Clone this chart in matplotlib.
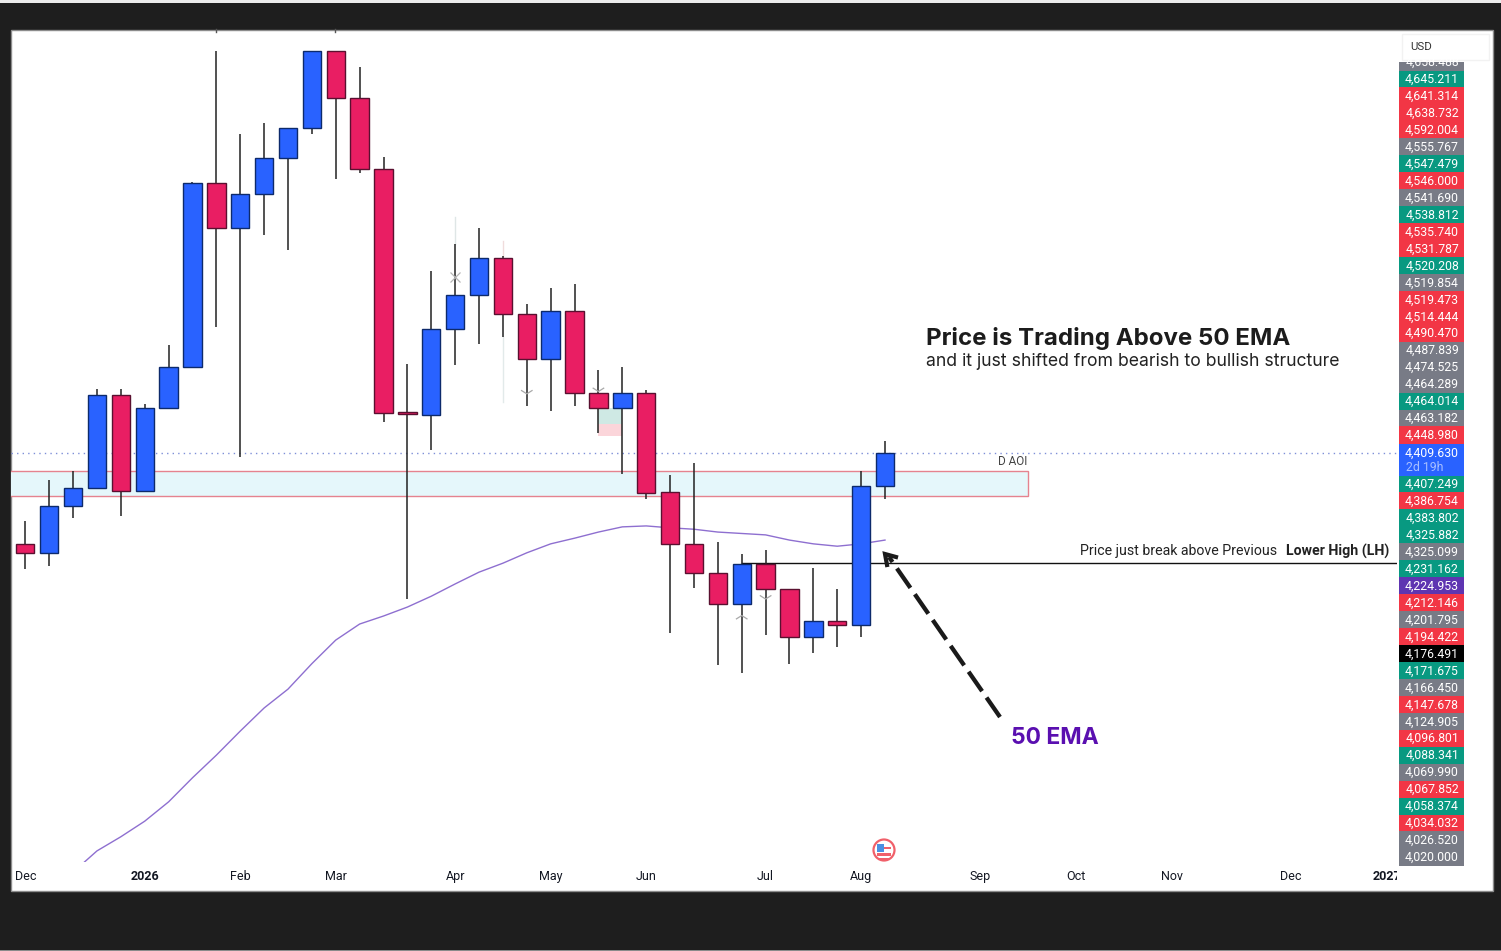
import numpy as np
import matplotlib
matplotlib.use("Agg")
import matplotlib.pyplot as plt
from matplotlib.patches import Rectangle, Circle

plt.rcParams["font.family"] = ["Roboto", "DejaVu Sans"]

W, H = 1501, 951
BLUE = "#2962ff"
RED = "#e91e63"
GREEN = "#089981"
LRED = "#f23645"
GRAY = "#787b86"
PURPLE = "#5e35b1"

# weekly candles
opens = [4216, 4198, 4298, 4336, 4532, 4330, 4505, 4592, 4982, 4887, 4958, 5034, 5099,
         5262, 5162, 5012, 4497, 4490, 4673, 4744, 4824, 4704, 4609, 4711, 4537, 4505,
         4537, 4327, 4217, 4155, 4089, 4175, 4121, 4019, 4053, 4046, 4340]
highs = [4265, 4352, 4372, 4545, 4545, 4513, 4639, 4984, 5262, 5086, 5110, 5099, 5262,
         5262, 5229, 5037, 4598, 4795, 4853, 4887, 4827, 4726, 4759, 4768, 4586, 4592,
         4543, 4363, 4388, 4221, 4196, 4205, 4121, 4166, 4121, 4372, 4434]
lows = [4164, 4170, 4272, 4336, 4275, 4330, 4505, 4592, 4677, 4401, 4872, 4840, 5086,
        4991, 5003, 4475, 4100, 4416, 4597, 4641, 4656, 4509, 4499, 4509, 4452, 4365,
        4312, 4027, 4123, 3961, 3944, 4024, 3963, 3986, 3999, 4019, 4313]
closes = [4198, 4298, 4336, 4532, 4330, 4505, 4592, 4982, 4887, 4958, 5034, 5099, 5262,
          5162, 5012, 4494, 4492, 4673, 4744, 4824, 4704, 4609, 4711, 4537, 4505, 4537,
          4325, 4217, 4155, 4089, 4175, 4121, 4019, 4053, 4046, 4340, 4409.63]

ema_start = 2
ema = [3521, 3566, 3596, 3629, 3670, 3721, 3769, 3820, 3869, 3909, 3963, 4013, 4047, 4064,
       4083, 4106, 4132, 4157, 4176, 4198, 4217, 4229, 4242, 4253, 4255, 4251, 4248, 4242,
       4239, 4236, 4225, 4217, 4212, 4217, 4225]

tick_idx = [0, 5, 9, 13, 18, 22, 26, 31, 35, 40, 44, 48, 53, 57]
tick_txt = ["Dec", "2026", "Feb", "Mar", "Apr", "May", "Jun", "Jul", "Aug", "Sep", "Oct", "Nov", "Dec", "2027"]

aoi_low, aoi_high = 4319, 4372
aoi_end = 42
lh_level = 4177
lh_start = 30
last_price = 4409.63

upper_labels = ["4,645.211", "4,641.314", "4,638.732", "4,592.004", "4,555.767", "4,547.479",
                "4,546.000", "4,541.690", "4,538.812", "4,535.740", "4,531.787", "4,520.208",
                "4,519.854", "4,519.473", "4,514.444", "4,490.470", "4,487.839", "4,474.525",
                "4,464.289", "4,464.014", "4,463.182", "4,448.980"]
upper_colors = [GREEN, LRED, LRED, LRED, GRAY, GREEN, LRED, GRAY, GREEN, LRED, LRED, GREEN,
                GRAY, LRED, LRED, LRED, GRAY, GRAY, GRAY, GREEN, GRAY, LRED]
lower_labels = ["4,407.249", "4,386.754", "4,383.802", "4,325.882", "4,325.099", "4,231.162",
                "4,224.953", "4,212.146", "4,201.795", "4,194.422", "4,176.491", "4,171.675",
                "4,166.450", "4,147.678", "4,124.905", "4,096.801", "4,088.341", "4,069.990",
                "4,067.852", "4,058.374", "4,034.032", "4,026.520", "4,020.000"]
lower_colors = [GREEN, LRED, GREEN, GREEN, GRAY, GREEN, PURPLE, LRED, GRAY, LRED, "#000000",
                GREEN, GRAY, LRED, GRAY, LRED, GREEN, GRAY, LRED, GREEN, LRED, GRAY, GRAY]

fig = plt.figure(figsize=(W / 100, H / 100), dpi=100, facecolor="#1e1e1e")


def px_axes(zorder):
    a = fig.add_axes([0, 0, 1, 1], zorder=zorder)
    a.set_xlim(0, W)
    a.set_ylim(H, 0)
    a.axis("off")
    a.patch.set_alpha(0)
    return a


bg = px_axes(0)
bg.add_patch(Rectangle((0, 0), W, 3, fc="#ececec", ec="none"))
bg.add_patch(Rectangle((0, 949.5), W, 1.5, fc="#8a8a8a", ec="none"))
bg.add_patch(Rectangle((10.5, 29.5), 1482, 861, fc="white", ec="#8c8c8c", lw=1))

# price chart on its own axes, limits fitted to the screenshot
ax = fig.add_axes([11 / W, 1 - 862 / H, 1386 / W, 832 / H], zorder=1)
ax.patch.set_alpha(0)
for s in ax.spines.values():
    s.set_visible(False)
ax.set_xlim(-0.599, 57.44)
ax.set_ylim(3542.5, 5306.4)
ax.set_yticks([])
ax.set_xticks(tick_idx)
ax.set_xticklabels(tick_txt, fontsize=9, color="#131722")
ax.tick_params(axis="x", length=0, pad=6)
for lab, t in zip(ax.get_xticklabels(), tick_txt):
    if t.isdigit():
        lab.set_fontweight("bold")

# last price dotted line and AOI zone
ax.axhline(last_price, color="#7e8fd8", lw=1, ls=(0, (1, 3)), zorder=1)
ax.add_patch(Rectangle((-2, aoi_low), aoi_end + 2, aoi_high - aoi_low, fc="#e5f7fb",
                       ec="#e5838f", lw=1, zorder=1.1))
ax.text(aoi_end - 0.05, aoi_high + 5, "D AOI", ha="right", va="bottom", fontsize=8.5, color="#444444")

# position tool remnant under the small candles
ax.add_patch(Rectangle((24, 4471), 1, 34, fc="#cfe9e4", ec="none", zorder=1.2))
ax.add_patch(Rectangle((24, 4446), 1, 25, fc="#fbd5da", ec="none", zorder=1.2))

ax.plot(np.arange(ema_start, ema_start + len(ema)), ema, color="#8e6fd0", lw=1, zorder=1.5)
ax.plot([lh_start, 60], [lh_level, lh_level], color="#111111", lw=1, zorder=1.5)

# faint leftover wicks
ax.plot([18, 18], [4853, 4910], color="#dfe6e6", lw=1, zorder=1.6)
ax.plot([20, 20], [4827, 4860], color="#f0dcdc", lw=1, zorder=1.6)
ax.plot([20, 20], [4656, 4517], color="#e2eaea", lw=1, zorder=1.6)

for i, (o, h, l, c) in enumerate(zip(opens, highs, lows, closes)):
    col = BLUE if c >= o else RED
    edge = "#0d2a6b" if c >= o else "#5a1030"
    ax.plot([i, i], [l, h], color="#222222", lw=1.1, zorder=2, solid_capstyle="butt")
    ax.add_patch(Rectangle((i - 0.385, min(o, c)), 0.77, abs(c - o), fc=col, ec=edge, lw=1, zorder=3))

# small trade markers
ax.plot([18], [4783], marker="x", ms=7.5, color="#b5b5b5", mew=0.9, zorder=4)
for i, p, mk in [(21, 4535, "v"), (24, 4540, "v"), (30, 4065, "^"), (31, 4100, "v")]:
    d = 1 if mk == "v" else -1
    ax.plot([i - 0.22, i, i + 0.22], [p + 7 * d, p, p + 7 * d], color="#a9a9a9", lw=0.9, zorder=4)

top = px_axes(2)
top.add_patch(Rectangle((1397, 868), 5, 18, fc="white", ec="none"))
# clipped wick tips above the masked top strip
for x in (216, 335):
    top.plot([x, x], [29, 32], color="#555555", lw=1)

top.text(926, 339, "Price is Trading Above 50 EMA", fontsize=17.3, fontweight="bold",
         color="#1c1c1c", va="center", family=["Inter", "DejaVu Sans"])
top.text(926, 362, "and it just shifted from bearish to bullish structure", fontsize=12.7,
         color="#222222", va="center", family=["Inter", "DejaVu Sans"])
top.text(1011, 738, "50 EMA", fontsize=16.5, fontweight="bold", color="#5a0fb0", va="center",
         family=["Inter", "DejaVu Sans"])

top.text(1277, 551, "Price just break above Previous", fontsize=10.2, color="#222222", ha="right", va="center")
top.text(1389, 551, "Lower High (LH)", fontsize=10.2, fontweight="bold", color="#222222", ha="right", va="center")

# dashed arrow pointing at the 50 EMA
top.plot([1000, 889], [717, 557], color="#1a1a1a", lw=3.1, ls=(0, (5.5, 1.8)))
top.plot([887, 885, 896], [565, 554, 557], color="#1a1a1a", lw=3, solid_joinstyle="miter")

# news flag
top.add_patch(Circle((884, 850), 10.5, fc="white", ec="#f0606a", lw=1.6))
top.add_patch(Rectangle((877, 853), 14, 2.5, fc="#f0606a", ec="none"))
top.add_patch(Rectangle((879, 858), 10, 1.8, fc="#f0606a", ec="none"))
top.add_patch(Rectangle((877, 844), 7, 8, fc="#4a90e2", ec="none"))
top.add_patch(Rectangle((884, 847), 7, 2, fc="#f0606a", ec="none"))

# price scale labels
top.add_patch(Rectangle((1402, 34), 87, 26, fc="white", ec="#f2f2f2", lw=1))
top.text(1410, 47.5, "USD", fontsize=8.2, color="#333333", va="center")

label_x0, label_w, row_h = 1399, 65, 16.95
clip = Rectangle((label_x0, 62), label_w, 8.5, fc=GRAY, ec="none")
top.add_patch(clip)
cut = top.text(1432, 62.5, "4,658.488", fontsize=8.8, color="white", ha="center", va="center")
cut.set_clip_path(clip)


def draw_labels(labels, colors, y0):
    for k, (s, c) in enumerate(zip(labels, colors)):
        y = y0 + k * row_h
        top.add_patch(Rectangle((label_x0, y - row_h / 2), label_w, row_h + 0.3, fc=c, ec="none"))
        top.text(1432, y + 0.5, s, fontsize=8.8, color="white", ha="center", va="center")


draw_labels(upper_labels, upper_colors, 79)
top.add_patch(Rectangle((label_x0, 444), label_w, 31.5, fc=BLUE, ec="none"))
top.text(1432, 453.5, "4,409.630", fontsize=8.8, color="white", ha="center", va="center")
top.text(1406, 467.5, "2d 19h", fontsize=8.8, color="#a8c0ff", ha="left", va="center")
draw_labels(lower_labels, lower_colors, 484)

fig.savefig("out.png", dpi=100, facecolor=fig.get_facecolor())
